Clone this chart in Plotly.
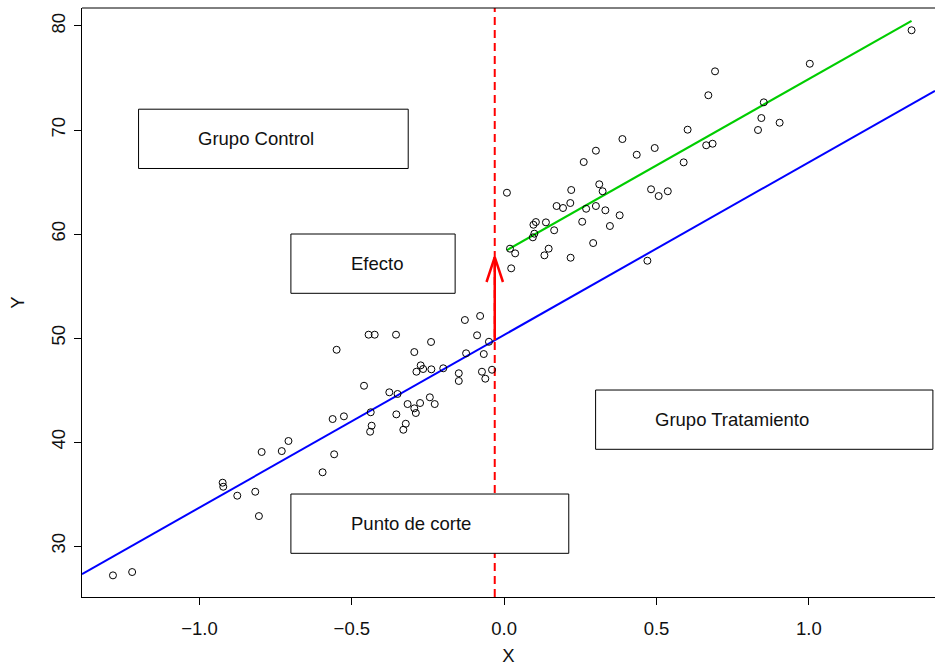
import plotly.graph_objects as go

# Observations left of the cutoff (control group)
x_control = [-1.284, -1.221, -0.924, -0.922, -0.876, -0.817, -0.805, -0.796, -0.730, -0.708,
             -0.596, -0.558, -0.563, -0.526, -0.550, -0.460, -0.445, -0.425, -0.440, -0.435,
             -0.438, -0.355, -0.377, -0.350, -0.354, -0.323, -0.331, -0.317, -0.295, -0.290,
             -0.276, -0.244, -0.228, -0.295, -0.240, -0.288, -0.274, -0.266, -0.239, -0.200,
             -0.149, -0.149, -0.129, -0.125, -0.079, -0.089, -0.050, -0.067, -0.073, -0.062,
             -0.040]
y_control = [27.18, 27.50, 36.09, 35.70, 34.84, 35.22, 32.88, 39.04, 39.13, 40.10,
             37.09, 38.82, 42.21, 42.47, 48.87, 45.41, 50.32, 50.32, 40.99, 41.57,
             42.86, 50.32, 44.78, 44.62, 42.66, 41.76, 41.18, 43.65, 43.24, 42.79,
             43.75, 44.30, 43.65, 48.65, 49.62, 46.76, 47.37, 47.02, 46.99, 47.09,
             46.61, 45.87, 51.73, 48.53, 52.12, 50.26, 49.64, 48.46, 46.76, 46.09,
             46.95]

# Observations right of the cutoff (treatment group)
x_treat = [0.009, 0.023, 0.019, 0.036, 0.094, 0.099, 0.096, 0.104, 0.137, 0.164,
           0.146, 0.132, 0.172, 0.193, 0.217, 0.220, 0.218, 0.256, 0.261, 0.269,
           0.301, 0.292, 0.301, 0.312, 0.323, 0.332, 0.347, 0.379, 0.435, 0.494,
           0.482, 0.507, 0.537, 0.589, 0.470, 0.388, 0.602, 0.670, 0.692, 0.663,
           0.684, 0.833, 0.844, 0.852, 0.904, 1.003, 1.337]
y_treat = [63.97, 56.70, 58.59, 58.14, 59.68, 60.03, 60.89, 61.15, 61.12, 60.36,
           58.59, 57.95, 62.69, 62.50, 62.98, 64.23, 57.72, 61.18, 66.92, 62.43,
           62.69, 59.13, 68.01, 64.78, 64.11, 62.28, 60.77, 61.80, 67.62, 68.27,
           64.30, 63.65, 64.11, 66.89, 57.43, 69.13, 70.03, 73.34, 75.64, 68.53,
           68.68, 70.00, 71.15, 72.66, 70.70, 76.37, 79.59]

# Regression discontinuity model
cutoff = -0.031
intercept = 50.3
slope = 16.6
effect = 8.0

x_range = [-1.3856, 1.4139]
y_range = [25.10, 81.73]
x_ticks = [-1.0, -0.5, 0.0, 0.5, 1.0]
y_ticks = [30, 40, 50, 60, 70, 80]

# Labelled boxes
box_labels = ["Grupo Control", "Efecto", "Grupo Tratamiento", "Punto de corte"]
box_left = [-1.2, -0.7, 0.3, -0.7]
box_top = [72.0, 60.0, 45.0, 35.0]
box_width = [0.885, 0.539, 1.107, 0.912]
box_height = 5.7
text_inset = 0.19

FONT = "Liberation Sans, Arial, Helvetica, sans-serif"
FS = 18.5

fig = go.Figure()

# Control fit extended across the whole axis
xb = list(x_range)
fig.add_trace(go.Scatter(x=xb, y=[intercept + slope * v for v in xb], mode="lines",
                         line=dict(color="#0000FF", width=2), hoverinfo="skip"))

# Treatment fit over the treated observations
xg = [min(x_treat), max(x_treat)]
fig.add_trace(go.Scatter(x=xg, y=[intercept + effect + slope * v for v in xg], mode="lines",
                         line=dict(color="#00CD00", width=2.2), hoverinfo="skip"))

# Cutoff line
fig.add_trace(go.Scatter(x=[cutoff, cutoff], y=y_range, mode="lines",
                         line=dict(color="#FF0000", width=2, dash="8px,5px"), hoverinfo="skip"))

# Scatter points
fig.add_trace(go.Scatter(x=x_control + x_treat, y=y_control + y_treat, mode="markers",
                         marker=dict(symbol="circle-open", size=7, color="black",
                                     line=dict(width=1, color="black"))))

# Effect arrow at the cutoff
y_low = intercept + slope * cutoff
y_high = y_low + effect
head_dx = 0.027
head_dy = 2.4
fig.add_trace(go.Scatter(x=[cutoff, cutoff], y=[y_low, y_high], mode="lines",
                         line=dict(color="#FF0000", width=2.5), hoverinfo="skip"))
fig.add_trace(go.Scatter(x=[cutoff - head_dx, cutoff, cutoff + head_dx],
                         y=[y_high - head_dy, y_high, y_high - head_dy], mode="lines",
                         line=dict(color="#FF0000", width=2.5), hoverinfo="skip"))

shapes = [
    # top border of the plotting frame
    dict(type="line", xref="paper", yref="paper", x0=0, x1=1, y0=1, y1=1,
         line=dict(color="black", width=1)),
]
annotations = []
for lab, x0, top, w in zip(box_labels, box_left, box_top, box_width):
    shapes.append(dict(type="rect", xref="x", yref="y", x0=x0, x1=x0 + w,
                       y0=top - box_height, y1=top, fillcolor="white",
                       line=dict(color="black", width=1), layer="above"))
    annotations.append(dict(x=x0 + text_inset, y=top - box_height / 2, xref="x", yref="y",
                            text=lab, showarrow=False, xanchor="left", yanchor="middle",
                            font=dict(family=FONT, size=FS, color="#111111")))

fig.update_layout(
    width=935, height=666,
    margin=dict(l=82, r=0, t=8, b=69, autoexpand=False),
    plot_bgcolor="white", paper_bgcolor="white",
    showlegend=False,
    shapes=shapes, annotations=annotations,
    font=dict(family=FONT, size=FS, color="black"),
    xaxis=dict(range=x_range, tickvals=x_ticks, tickformat=".1f", showgrid=False,
               zeroline=False, showline=True, linecolor="black", linewidth=1,
               ticks="outside", ticklen=7, tickcolor="black", tickwidth=1,
               ticklabelstandoff=8, tickfont=dict(family=FONT, size=FS, color="#111111"),
               title=dict(text="X", standoff=11, font=dict(family=FONT, size=FS, color="#111111")),
               automargin=False),
    yaxis=dict(range=y_range, tickvals=y_ticks, tickangle=-90, showgrid=False,
               zeroline=False, showline=True, linecolor="black", linewidth=1,
               ticks="outside", ticklen=7, tickcolor="black", tickwidth=1,
               ticklabelstandoff=2, tickfont=dict(family=FONT, size=FS, color="#111111"),
               title=dict(text="Y", standoff=18, font=dict(family=FONT, size=FS, color="#111111")),
               automargin=False),
)

fig.write_html("out.html")
